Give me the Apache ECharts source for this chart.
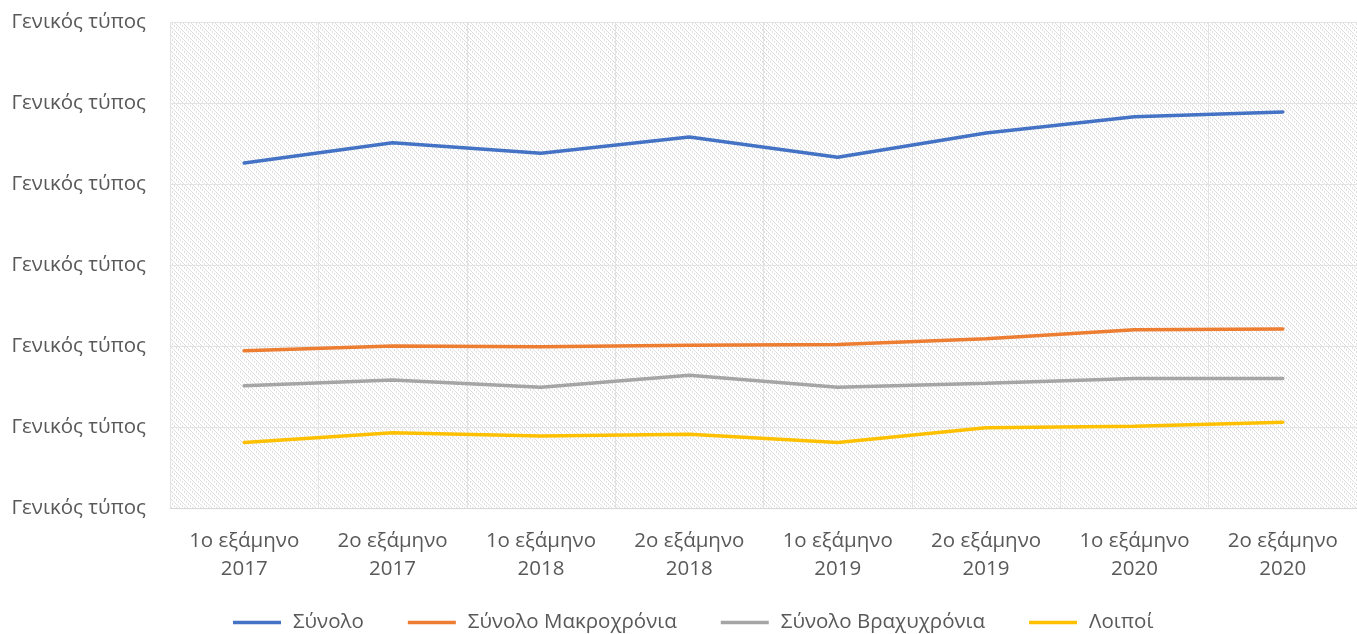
<!DOCTYPE html>
<html>
<head>
<meta charset="utf-8">
<title>Chart</title>
<script src="https://cdn.jsdelivr.net/npm/echarts@6/dist/echarts.min.js"></script>
<style>
  html, body { margin: 0; padding: 0; background: #fff; }
  #main { width: 1357px; height: 634px; }
</style>
</head>
<body>
<div id="main"></div>
<script>
  var categories = ['1ο εξάμηνο\n2017', '2ο εξάμηνο\n2017', '1ο εξάμηνο\n2018', '2ο εξάμηνο\n2018',
    '1ο εξάμηνο\n2019', '2ο εξάμηνο\n2019', '1ο εξάμηνο\n2020', '2ο εξάμηνο\n2020'];
  var synolo = [4.26, 4.51, 4.38, 4.58, 4.33, 4.63, 4.83, 4.89];
  var makroxronia = [1.94, 2.00, 1.99, 2.01, 2.02, 2.09, 2.20, 2.21];
  var vraxyxronia = [1.51, 1.58, 1.49, 1.64, 1.49, 1.54, 1.60, 1.60];
  var loipoi = [0.81, 0.93, 0.89, 0.91, 0.81, 0.99, 1.01, 1.06];
  var yLabel = 'Γενικός τύπος';

  // diagonal dotted hatch for the plot area
  var pat = document.createElement('canvas');
  pat.width = 8; pat.height = 8;
  var ctx = pat.getContext('2d');
  ctx.fillStyle = '#ffffff';
  ctx.fillRect(0, 0, 8, 8);
  ctx.fillStyle = '#dedede';
  for (var i = 0; i < 8; i++) {
    ctx.fillRect(i, i, 1, 1);
    ctx.fillRect((i + 4 + (i % 2)) % 8, i, 1, 1);
  }

  var chart = echarts.init(document.getElementById('main'));
  var font = '"Open Sans", "Noto Sans", sans-serif';

  function line(name, data, color) {
    return {
      name: name, type: 'line', data: data,
      symbol: 'none', smooth: false,
      lineStyle: { color: color, width: 3.5, cap: 'round' },
      itemStyle: { color: color }
    };
  }

  chart.setOption({
    animation: false,
    grid: {
      left: 170, right: 0, top: 22, bottom: 126,
      show: true, borderWidth: 0,
      backgroundColor: { image: pat, repeat: 'repeat' }
    },
    legend: {
      top: 607, left: 228, itemGap: 44,
      itemWidth: 48, itemHeight: 3.5,
      icon: 'rect',
      textStyle: { color: '#595959', fontSize: 20.5, fontFamily: font, padding: [0, 0, 0, 7] },
      data: ['Σύνολο', 'Σύνολο Μακροχρόνια', 'Σύνολο Βραχυχρόνια', 'Λοιποί']
    },
    xAxis: {
      type: 'category', data: categories, boundaryGap: true,
      axisLine: { lineStyle: { color: '#d9d9d9', width: 1 } },
      axisTick: { show: false },
      splitLine: { show: true, lineStyle: { color: '#e3e3e3' } },
      axisLabel: { color: '#595959', fontSize: 20.5, fontFamily: font, lineHeight: 28, margin: 19 }
    },
    yAxis: {
      type: 'value', min: 0, max: 6, interval: 1,
      axisLine: { show: false }, axisTick: { show: false },
      splitLine: { lineStyle: { color: '#e3e3e3' } },
      axisLabel: {
        color: '#595959', fontSize: 20.5, fontFamily: font, margin: 24,
        formatter: function () { return yLabel; }
      }
    },
    series: [
      line('Σύνολο', synolo, '#4472c4'),
      line('Σύνολο Μακροχρόνια', makroxronia, '#ed7d31'),
      line('Σύνολο Βραχυχρόνια', vraxyxronia, '#a5a5a5'),
      line('Λοιποί', loipoi, '#ffc000')
    ]
  });
</script>
</body>
</html>
